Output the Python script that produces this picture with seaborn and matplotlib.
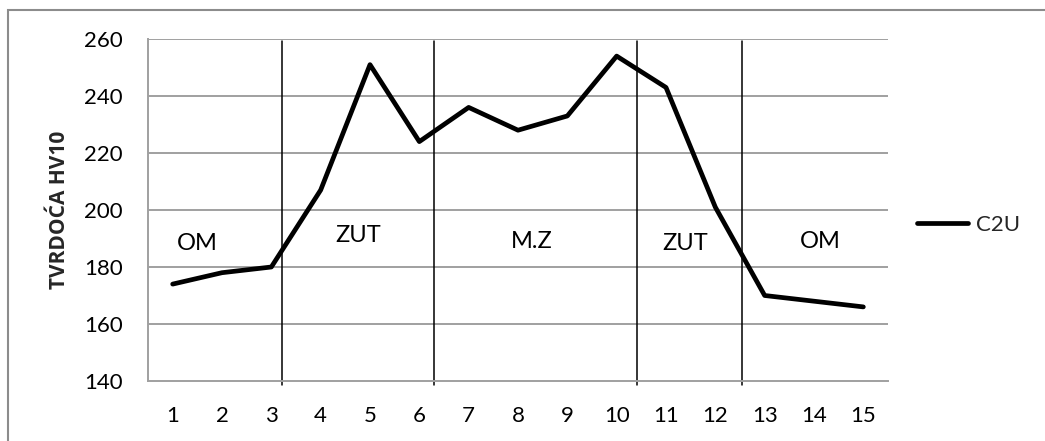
import matplotlib
matplotlib.use("Agg")
import matplotlib.pyplot as plt
from matplotlib.patches import Rectangle
import seaborn as sns
import pandas as pd

# Hardness profile across the weld (measurement points 1..15)
points = list(range(1, 16))
hardness_c2u = [174, 178, 180, 207, 251, 224, 236, 228, 233, 254, 243, 201, 170, 168, 166]
series_name = "C2U"

# Zone boundaries (between measurement points) and zone names
zone_bounds = [3.22, 6.29, 10.41, 12.54]
zone_names = ["OM", "ZUT", "M.Z", "ZUT", "OM"]
zone_label_x = [1.49, 4.76, 8.28, 11.39, 14.12]
zone_label_y = [188.4, 191.2, 188.8, 188.4, 188.8]

y_ticks = [140, 160, 180, 200, 220, 240, 260]
y_title = "TVRDOĆA HV10"

sns.set_theme(style="white")
plt.rcParams["font.family"] = ["Lato", "DejaVu Sans"]

df = pd.DataFrame({"point": points, "hv": hardness_c2u})

fig = plt.figure(figsize=(10.45, 4.41), dpi=100)
ax = fig.add_axes([148 / 1045, 1 - 381 / 441, 740 / 1045, 342 / 441])

grid_color = "#a0a0a0"
for yv in y_ticks[1:]:
    ax.axhline(yv, color=grid_color, lw=1.4, zorder=1)

sns.lineplot(data=df, x="point", y="hv", ax=ax, color="black", lw=3.4,
             label=series_name, zorder=3)

for xb in zone_bounds:
    ax.axvline(xb, ymin=-0.012, ymax=0.994, color="black", lw=1.1,
               clip_on=False, zorder=2)

for name, xl, yl in zip(zone_names, zone_label_x, zone_label_y):
    ax.text(xl, yl, name, ha="center", va="center", fontsize=17, color="black")

ax.set_xlim(0.5, 15.5)
ax.set_ylim(140, 260)
ax.set_xticks(points)
ax.set_xticklabels([str(p) for p in points])
ax.set_yticks(y_ticks)
ax.tick_params(axis="both", length=0, labelsize=16, colors="black")
ax.tick_params(axis="x", pad=18)
ax.tick_params(axis="y", pad=18)
ax.set_xlabel("")
ax.set_ylabel(y_title, fontsize=15, fontweight="bold", labelpad=10,
              family=["Open Sans", "DejaVu Sans"])

for side in ["top", "right"]:
    ax.spines[side].set_visible(False)
for side in ["left", "bottom"]:
    ax.spines[side].set_color(grid_color)
    ax.spines[side].set_linewidth(1.4)

ax.legend(loc="center left", bbox_to_anchor=(917 / 1045, 1 - 225 / 441),
          bbox_transform=fig.transFigure, frameon=False, fontsize=16,
          handlelength=2.3, handletextpad=0.35, borderpad=0, borderaxespad=0)

fig.patches.append(Rectangle((8 / 1045, -0.1), 1.2, 1.1 - 9.5 / 441,
                             transform=fig.transFigure, fill=False,
                             edgecolor="#8c8c8c", lw=1.5))

fig.savefig("out.png", dpi=100)
